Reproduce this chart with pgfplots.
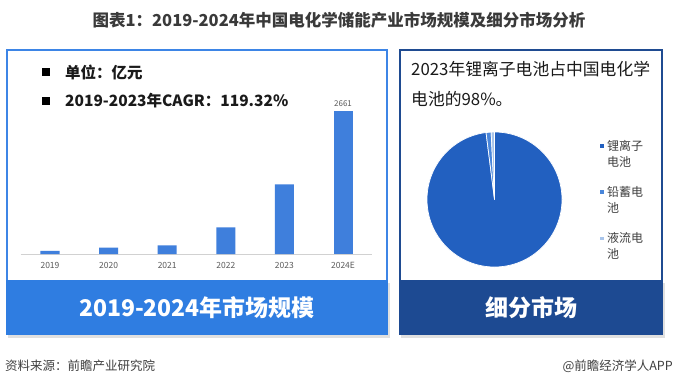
\documentclass[border=0pt]{standalone}
\usepackage{pgfplots}
\pgfplotsset{compat=1.18}
\usepackage{fontspec}
\setmainfont{Noto Sans CJK SC}
\definecolor{titlec}{HTML}{3A3A3A}
\definecolor{lborder}{HTML}{3D85E6}
\definecolor{lband}{HTML}{2F7DE1}
\definecolor{barc}{HTML}{3F7FDC}
\definecolor{rborder}{HTML}{1F4B91}
\definecolor{rband}{HTML}{1D4A92}
\definecolor{pieLi}{HTML}{2260C0}
\definecolor{pieLead}{HTML}{4A86DA}
\definecolor{pieFlow}{HTML}{A8C4EA}
\definecolor{txt}{HTML}{1A1A1A}
\definecolor{legtxt}{HTML}{404040}
\newcommand{\fs}[1]{\fontsize{#1}{#1}\selectfont}
\begin{document}
\begin{tikzpicture}
\path[use as bounding box, fill=white] (0,0) rectangle (676pt,-387pt);
% title
\node[font=\bfseries\fs{16.5}, text=titlec] at (339pt,-20pt) {图表1：2019-2024年中国电化学储能产业市场规模及细分市场分析};
% ---------- left panel ----------
\draw[lborder, line width=2pt] (7pt,-50pt) rectangle (387pt,-334pt);
\fill[black!12] (8pt,-283pt) rectangle (390pt,-337.5pt);
\fill[lband] (6pt,-280pt) rectangle (388pt,-335pt);
\node[font=\bfseries\fs{23}, text=white] at (197pt,-308pt) {2019-2024年市场规模};
\fill[black] (42pt,-68pt) rectangle (50pt,-76pt);
\node[anchor=west, font=\bfseries\fs{15.5}, text=txt, inner sep=0pt] at (65pt,-72pt) {单位：亿元};
\fill[black] (42pt,-97pt) rectangle (50pt,-105pt);
\node[anchor=west, font=\bfseries\fs{15.5}, text=txt, inner sep=0pt] at (65pt,-101pt) {2019-2023年CAGR：119.32\%};
\begin{axis}[
  at={(20.7pt,-254pt)}, anchor=south west,
  width=351.6pt, height=161.3pt, scale only axis,
  xmin=-0.5, xmax=5.5, ymin=0, ymax=3000,
  axis x line*=bottom, axis y line=none,
  axis line style={-, draw=black!18, line width=0.8pt},
  xtick={0,1,2,3,4,5},
  xticklabels={2019,2020,2021,2022,2023,2024E},
  major tick length=0pt,
  ytick=\empty,
  /pgf/number format/assume math mode=true,
  /pgf/number format/1000 sep={},
  xticklabel style={font=\fs{8.5}, text=black!65, yshift=-5pt},
  ybar, bar width=19pt, bar shift=0pt,
  clip=false,
]
\addplot[fill=barc, draw=none] coordinates {(0,56) (1,117) (2,162) (3,497) (4,1297)};
\addplot[fill=barc, draw=none, nodes near coords,
  every node near coord/.append style={font=\fs{8}, text=black!65, yshift=1pt}] coordinates {(5,2661)};
\end{axis}
% ---------- right panel ----------
\draw[rborder, line width=2pt] (400pt,-50pt) rectangle (662pt,-334pt);
\fill[black!12] (401pt,-283pt) rectangle (665pt,-337.5pt);
\fill[rband] (399pt,-280pt) rectangle (663pt,-335pt);
\node[font=\bfseries\fs{23}, text=white] at (531pt,-308pt) {细分市场};
\node[anchor=west, font=\fs{16.8}, text=txt, inner sep=0pt] at (411pt,-69pt) {2023年锂离子电池占中国电化学};
\node[anchor=west, font=\fs{16.8}, text=txt, inner sep=0pt] at (411pt,-99pt) {电池的98\%。};
\begin{axis}[
  at={(494.5pt,-199.5pt)}, anchor=center,
  width=135pt, height=135pt, scale only axis,
  xmin=-1, xmax=1, ymin=-1, ymax=1, hide axis, clip=false,
]
% shares (%): lithium-ion 98, lead-acid 1.2, flow 0.8 ; clockwise from the top
\fill[pieLi, draw=white, line width=0.7pt] (axis cs:0,0) -- (axis cs:0,1) arc[start angle=90, end angle=-262.8, radius=67.5pt] -- cycle;
\fill[pieLead, draw=white, line width=0.7pt] (axis cs:0,0) -- (axis cs:-0.12533,0.99211) arc[start angle=-262.8, end angle=-267.12, radius=67.5pt] -- cycle;
\fill[pieFlow, draw=white, line width=0.7pt] (axis cs:0,0) -- (axis cs:-0.05024,0.99874) arc[start angle=-267.12, end angle=-270, radius=67.5pt] -- cycle;
\end{axis}
% legend
\fill[pieLi] (600pt,-144.5pt) rectangle (603.5pt,-148pt);
\node[anchor=west, font=\fs{12}, text=legtxt, inner sep=0pt] at (607pt,-146pt) {锂离子};
\node[anchor=west, font=\fs{12}, text=legtxt, inner sep=0pt] at (607pt,-162pt) {电池};
\fill[pieLead] (600pt,-190.5pt) rectangle (603.5pt,-194pt);
\node[anchor=west, font=\fs{12}, text=legtxt, inner sep=0pt] at (607pt,-192pt) {铅蓄电};
\node[anchor=west, font=\fs{12}, text=legtxt, inner sep=0pt] at (607pt,-208pt) {池};
\fill[pieFlow] (600pt,-236.5pt) rectangle (603.5pt,-240pt);
\node[anchor=west, font=\fs{12}, text=legtxt, inner sep=0pt] at (607pt,-238pt) {液流电};
\node[anchor=west, font=\fs{12}, text=legtxt, inner sep=0pt] at (607pt,-254pt) {池};
% footer
\node[anchor=west, font=\fs{12.5}, text=black!75, inner sep=0pt] at (5pt,-366pt) {资料来源：前瞻产业研究院};
\node[anchor=east, font=\fs{12.5}, text=black!75, inner sep=0pt] at (673pt,-366pt) {@前瞻经济学人APP};
\end{tikzpicture}
\end{document}
